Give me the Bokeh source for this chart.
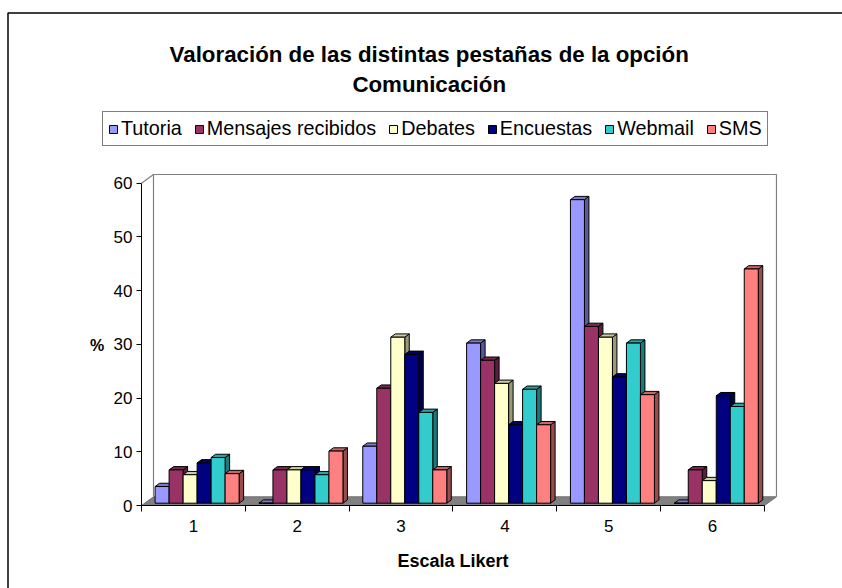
from bokeh.plotting import figure
from bokeh.models import (ColumnDataSource, FixedTicker, Legend, LegendItem, Label, Range1d)
from bokeh.embed import file_html
from bokeh.resources import INLINE

# ---------------- data ----------------
categories = ["1", "2", "3", "4", "5", "6"]
series_names = ["Tutoria", "Mensajes recibidos", "Debates", "Encuestas", "Webmail", "SMS"]
tutoria = [3.1, 0.0, 10.6, 29.8, 56.5, 0.0]
mensajes = [6.2, 6.2, 21.4, 26.6, 32.9, 6.2]
debates = [5.3, 6.2, 30.9, 22.3, 30.9, 4.2]
encuestas = [7.5, 6.2, 27.7, 14.6, 23.5, 20.0]
webmail = [8.5, 5.3, 16.9, 21.2, 29.8, 18.0]
sms = [5.5, 9.7, 6.2, 14.6, 20.2, 43.6]
y_ticks = [0, 10, 20, 30, 40, 50, 60]
title_lines = ["Valoración de las distintas pestañas de la opción", "Comunicación"]
x_title = "Escala Likert"
y_title = "%"

series_values = [tutoria, mensajes, debates, encuestas, webmail, sms]
colors = ["#9999FF", "#993366", "#FFFFCC", "#000080", "#33CCCC", "#FF8080"]

# ---------------- geometry (pixels) ----------------
W, H = 842, 588
PX_X = 103.83          # pixels per category
PX_Y = 5.372           # pixels per percent
REF_X0, REF_Y0 = 141, 505   # pixel position of (x=0.5, y=0)
WALL_DX, WALL_DY = 12.0, 8.7
SET_DX, SET_DY = 3.7, 2.3
BAR_DX, BAR_DY = 4.5, 3.3
BAR_W_PX = 14.0

ux = lambda px: px / PX_X
uy = lambda py: py / PX_Y
def data_x(px):
    return 0.5 + (px - REF_X0) / PX_X
def data_y(py):
    return (REF_Y0 - py) / PX_Y

n_cat = len(categories)
y_max = y_ticks[-1]

p = figure(width=W, height=H, frame_width=W, frame_height=H,
           x_range=Range1d(data_x(0), data_x(W)), y_range=Range1d(data_y(H), data_y(0)),
           output_backend="svg", toolbar_location=None,
           min_border_left=0, min_border_right=0, min_border_top=0, min_border_bottom=0)
p.xgrid.visible = False
p.ygrid.visible = False
p.outline_line_color = None
p.background_fill_color = "white"
p.border_fill_color = "white"

FONT = "Liberation Sans"

# ---------------- outer chart border (left and top; chart box is cropped) ----------------
p.multi_line(xs=[[data_x(7.5), data_x(7.5), data_x(W + 5)]],
             ys=[[data_y(H + 5), data_y(12.5), data_y(12.5)]],
             line_color="black", line_width=1.5)

# ---------------- floor and walls ----------------
wdx, wdy = ux(WALL_DX), uy(WALL_DY)
x_lo, x_hi = 0.5, n_cat + 0.5
p.patch([x_lo, x_hi, x_hi + wdx, x_lo + wdx], [0, 0, wdy, wdy],
        fill_color="#808080", line_color="#707070", line_width=1)
p.multi_line(
    xs=[[x_lo + wdx, x_lo + wdx, x_hi + wdx, x_hi + wdx], [x_lo, x_lo + wdx]],
    ys=[[wdy, y_max + wdy, y_max + wdy, wdy], [y_max, y_max + wdy]],
    line_color="#808080", line_width=1.2)

# ---------------- 3D bars ----------------
def shade(hexcol, f):
    h = hexcol.lstrip("#")
    r, g, b = (int(h[i:i + 2], 16) for i in (0, 2, 4))
    return "#%02x%02x%02x" % (int(r * f), int(g * f), int(b * f))

bw = ux(BAR_W_PX)
gap = (1 - len(series_names) * bw) / 2
sdx, sdy = ux(SET_DX), uy(SET_DY)
bdx, bdy = ux(BAR_DX), uy(BAR_DY)

legend_items = []
for i, (name, vals, col) in enumerate(zip(series_names, series_values, colors)):
    lefts, rights, bottoms, tops = [], [], [], []
    top_xs, top_ys, side_xs, side_ys = [], [], [], []
    for c, v in enumerate(vals):
        l = (c + 1) - 0.5 + sdx + gap + i * bw
        r = l + bw
        b = sdy
        t = sdy + v
        lefts.append(l); rights.append(r); bottoms.append(b); tops.append(t)
        top_xs.append([l, l + bdx, r + bdx, r])
        top_ys.append([t, t + bdy, t + bdy, t])
        side_xs.append([r, r, r + bdx, r + bdx])
        side_ys.append([b, t, t + bdy, b + bdy])
    p.patches(side_xs, side_ys, fill_color=shade(col, 0.6), line_color="black", line_width=1)
    p.patches(top_xs, top_ys, fill_color=shade(col, 0.8), line_color="black", line_width=1)
    src = ColumnDataSource(dict(left=lefts, right=rights, bottom=bottoms, top=tops))
    front = p.quad(left="left", right="right", bottom="bottom", top="top", source=src,
                   fill_color=col, line_color="black", line_width=1)
    legend_items.append(LegendItem(label=name, renderers=[front]))

# ---------------- axes ----------------
xa = p.xaxis[0]
xa.fixed_location = 0
xa.ticker = FixedTicker(ticks=list(range(1, n_cat + 1)),
                        minor_ticks=[k + 0.5 for k in range(0, n_cat + 1)])
xa.major_label_overrides = {k + 1: c for k, c in enumerate(categories)}
xa.bounds = (x_lo, x_hi)
xa.axis_line_color = "black"
xa.axis_line_width = 1
xa.major_tick_out = 0
xa.major_tick_in = 0
xa.minor_tick_out = 6
xa.minor_tick_in = 0
xa.minor_tick_line_color = "black"
xa.major_label_standoff = 8
xa.major_label_text_font = FONT
xa.major_label_text_font_size = "17px"
xa.major_label_text_color = "black"
xa.axis_label = x_title
xa.axis_label_text_font = FONT
xa.axis_label_text_font_size = "18px"
xa.axis_label_text_font_style = "bold"
xa.axis_label_text_color = "black"
xa.axis_label_standoff = 16

ya = p.yaxis[0]
ya.fixed_location = 0.5
ya.ticker = FixedTicker(ticks=y_ticks, minor_ticks=[])
ya.bounds = (0, y_max)
ya.axis_line_color = "black"
ya.major_tick_out = 5
ya.major_tick_in = 0
ya.minor_tick_out = 0
ya.minor_tick_in = 0
ya.major_tick_line_color = "black"
ya.major_label_standoff = 4
ya.major_label_text_font = FONT
ya.major_label_text_font_size = "17px"
ya.major_label_text_color = "black"

# ---------------- texts ----------------
p.add_layout(Label(x=data_x(428.7), y=data_y(54), text=title_lines[0], text_align="center",
                   text_baseline="alphabetic", text_font=FONT, text_font_size="22.3px",
                   text_font_style="bold", text_color="black"))
p.add_layout(Label(x=data_x(428.7), y=data_y(84), text=title_lines[1], text_align="center",
                   text_baseline="alphabetic", text_font=FONT, text_font_size="22.3px",
                   text_font_style="bold", text_color="black"))
p.add_layout(Label(x=data_x(96.5), y=data_y(345), text=y_title, text_align="center",
                   text_baseline="middle", text_font=FONT, text_font_size="16px",
                   text_font_style="bold", text_color="black"))

# ---------------- legend ----------------
legend = Legend(items=legend_items, orientation="horizontal",
                location=(102, int(round(H - 146.3))),
                glyph_width=10, glyph_height=10, label_standoff=3, spacing=12,
                padding=5, margin=0, border_line_color="black", border_line_width=1,
                background_fill_color="white", background_fill_alpha=1,
                label_text_font=FONT, label_text_font_size="19.8px", label_text_color="black")
p.add_layout(legend, "center")

open("out.html", "w").write(file_html(p, INLINE))
